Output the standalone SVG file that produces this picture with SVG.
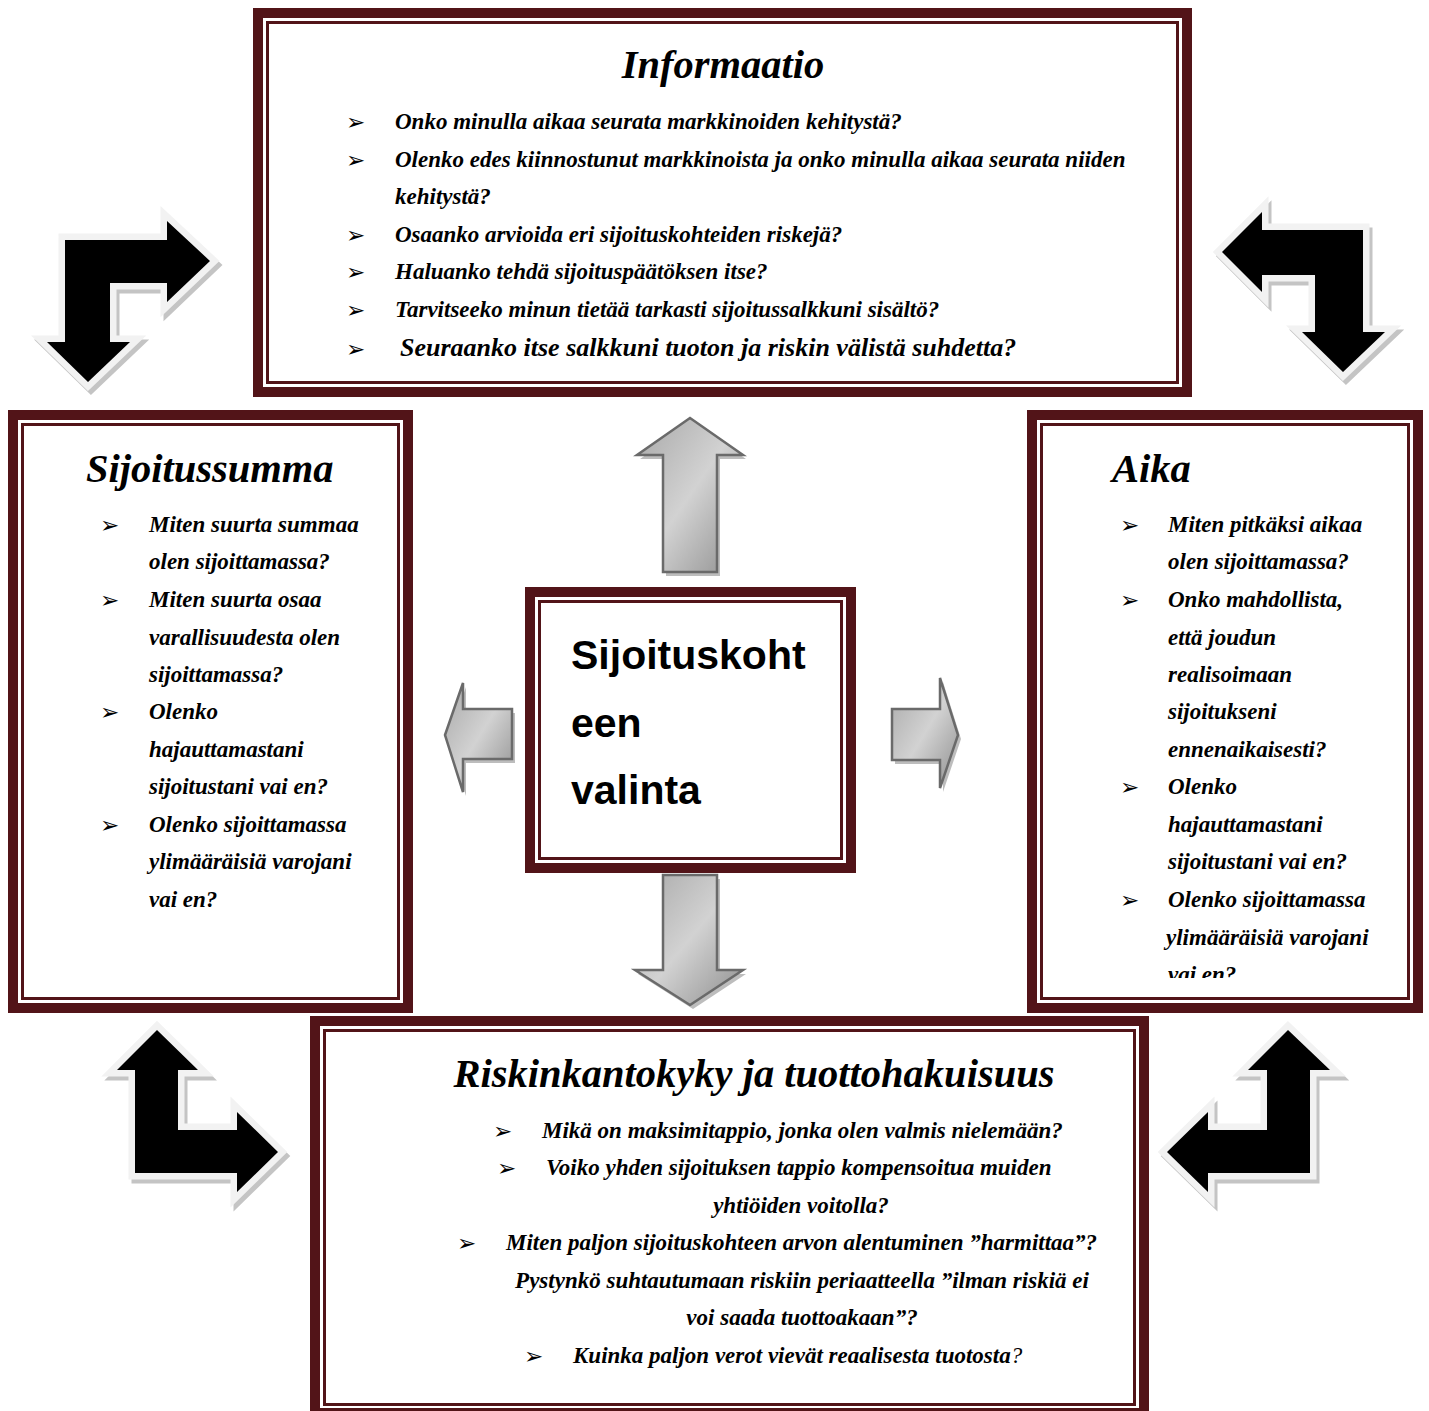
<svg xmlns="http://www.w3.org/2000/svg" width="1429" height="1411" viewBox="0 0 1429 1411">
<style>
.outer{fill:none;stroke:#521418;stroke-width:10}
.inner{fill:none;stroke:#521418;stroke-width:3}
.bg{fill:#ffffff}
.t{font-family:"Liberation Serif",serif;font-weight:bold;font-style:italic;font-size:23px;fill:#000}
.h{font-family:"Liberation Serif",serif;font-weight:bold;font-style:italic;font-size:40.5px;fill:#000}
.b{font-family:"DejaVu Sans",sans-serif;font-size:23px;fill:#000}
.c{font-family:"Liberation Sans",sans-serif;font-weight:bold;font-size:41px;fill:#000}
.ga{fill:url(#gg);stroke:#6a6a6a;stroke-width:2.5;stroke-linejoin:miter}
.gs{fill:#bdbdbd}
.ba{fill:#000;stroke:#f2f2f2;stroke-width:13;stroke-linejoin:miter;stroke-miterlimit:6;paint-order:stroke fill}
.bs{fill:#c4c4c4;stroke:#c4c4c4;stroke-width:13;stroke-linejoin:miter;stroke-miterlimit:6}
</style>
<defs>
<linearGradient id="gg" x1="0" y1="0" x2="1" y2="1">
<stop offset="0" stop-color="#a8a8a8"/>
<stop offset="0.5" stop-color="#d2d2d2"/>
<stop offset="1" stop-color="#8e8e8e"/>
</linearGradient>
<clipPath id="clipR"><rect x="1040" y="420" width="370" height="558"/></clipPath>
</defs>
<rect width="1429" height="1411" fill="#fff"/>

<g id="connectors">
<g id="arrow-up">
<path class="gs" transform="translate(3,4)" d="M690,418 L743,455 L717,455 L717,572 L663,572 L663,455 L637,455 Z"/>
<path class="ga" d="M690,418 L743,455 L717,455 L717,572 L663,572 L663,455 L637,455 Z"/>
</g>
<g id="arrow-left">
<path class="gs" transform="translate(3,4)" d="M445,735 L463,683 L463,709 L512,709 L512,759 L463,759 L463,792 Z"/>
<path class="ga" d="M445,735 L463,683 L463,709 L512,709 L512,759 L463,759 L463,792 Z"/>
</g>
<g id="arrow-right">
<path class="gs" transform="translate(3,4)" d="M958,735 L940,788 L940,760 L892,760 L892,709 L940,709 L940,678 Z"/>
<path class="ga" d="M958,735 L940,788 L940,760 L892,760 L892,709 L940,709 L940,678 Z"/>
</g>
<g id="arrow-down">
<path class="gs" transform="translate(3,4)" d="M690,1005 L635,970 L663,970 L663,875 L717,875 L717,970 L743,970 Z"/>
<path class="ga" d="M690,1005 L635,970 L663,970 L663,875 L717,875 L717,970 L743,970 Z"/>
</g>
<g id="corner-tl">
<path class="bs" transform="translate(3,4)" d="M65,240 L167,240 L167,221 L210,261 L167,302 L167,283 L110,283 L110,342 L130,342 L88,382 L47,342 L65,342 Z"/>
<path class="ba" d="M65,240 L167,240 L167,221 L210,261 L167,302 L167,283 L110,283 L110,342 L130,342 L88,382 L47,342 L65,342 Z"/>
</g>
<g id="corner-tr">
<path class="bs" transform="translate(3,4)" d="M1363,230 L1262,230 L1262,212 L1222,252 L1262,292 L1262,275 L1315,275 L1315,332 L1302,332 L1343,372 L1385,332 L1363,332 Z"/>
<path class="ba" d="M1363,230 L1262,230 L1262,212 L1222,252 L1262,292 L1262,275 L1315,275 L1315,332 L1302,332 L1343,372 L1385,332 L1363,332 Z"/>
</g>
<g id="corner-bl">
<path class="bs" transform="translate(3,4)" d="M135,1173 L237,1173 L237,1192 L278,1152 L237,1112 L237,1130 L178,1130 L178,1070 L198,1070 L157,1030 L117,1070 L135,1070 Z"/>
<path class="ba" d="M135,1173 L237,1173 L237,1192 L278,1152 L237,1112 L237,1130 L178,1130 L178,1070 L198,1070 L157,1030 L117,1070 L135,1070 Z"/>
</g>
<g id="corner-br">
<path class="bs" transform="translate(3,4)" d="M1310,1173 L1208,1173 L1208,1192 L1167,1152 L1208,1112 L1208,1130 L1267,1130 L1267,1070 L1248,1070 L1288,1030 L1330,1070 L1310,1070 Z"/>
<path class="ba" d="M1310,1173 L1208,1173 L1208,1192 L1167,1152 L1208,1112 L1208,1130 L1267,1130 L1267,1070 L1248,1070 L1288,1030 L1330,1070 L1310,1070 Z"/>
</g>
</g>

<g id="informaatio">
<rect class="bg" x="253" y="8" width="939" height="389"/>
<rect class="outer" x="258" y="13" width="929" height="379"/>
<rect class="inner" x="267.5" y="22.5" width="910" height="360"/>
<text class="h" x="723" y="78" text-anchor="middle">Informaatio</text>
<text class="b" x="346" y="130">➢</text><text class="t" x="395" y="129">Onko minulla aikaa seurata markkinoiden kehitystä?</text>
<text class="b" x="346" y="168">➢</text><text class="t" x="395" y="167">Olenko edes kiinnostunut markkinoista ja onko minulla aikaa seurata niiden</text>
<text class="t" x="395" y="204">kehitystä?</text>
<text class="b" x="346" y="243">➢</text><text class="t" x="395" y="242">Osaanko arvioida eri sijoituskohteiden riskejä?</text>
<text class="b" x="346" y="280">➢</text><text class="t" x="395" y="279">Haluanko tehdä sijoituspäätöksen itse?</text>
<text class="b" x="346" y="318">➢</text><text class="t" x="395" y="317">Tarvitseeko minun tietää tarkasti sijoitussalkkuni sisältö?</text>
<text class="b" x="346" y="357">➢</text><text class="t" x="400" y="356" style="font-size:26px">Seuraanko itse salkkuni tuoton ja riskin välistä suhdetta?</text>
</g>

<g id="sijoitussumma">
<rect class="bg" x="8" y="410" width="405" height="603"/>
<rect class="outer" x="13" y="415" width="395" height="593"/>
<rect class="inner" x="22.5" y="424.5" width="376" height="574"/>
<text class="h" x="86" y="482">Sijoitussumma</text>
<text class="b" x="100" y="533">➢</text><text class="t" x="149" y="532">Miten suurta summaa</text>
<text class="t" x="149" y="569">olen sijoittamassa?</text>
<text class="b" x="100" y="608">➢</text><text class="t" x="149" y="607">Miten suurta osaa</text>
<text class="t" x="149" y="645">varallisuudesta olen</text>
<text class="t" x="149" y="682">sijoittamassa?</text>
<text class="b" x="100" y="720">➢</text><text class="t" x="149" y="719">Olenko</text>
<text class="t" x="149" y="757">hajauttamastani</text>
<text class="t" x="149" y="794">sijoitustani vai en?</text>
<text class="b" x="100" y="833">➢</text><text class="t" x="149" y="832">Olenko sijoittamassa</text>
<text class="t" x="149" y="869">ylimääräisiä varojani</text>
<text class="t" x="149" y="907">vai en?</text>
</g>

<g id="aika">
<rect class="bg" x="1027" y="410" width="396" height="603"/>
<rect class="outer" x="1032" y="415" width="386" height="593"/>
<rect class="inner" x="1041.5" y="424.5" width="367" height="574"/>
<text class="h" x="1112" y="482">Aika</text>
<g clip-path="url(#clipR)">
<text class="b" x="1120" y="533">➢</text><text class="t" x="1168" y="532">Miten pitkäksi aikaa</text>
<text class="t" x="1168" y="569">olen sijoittamassa?</text>
<text class="b" x="1120" y="608">➢</text><text class="t" x="1168" y="607">Onko mahdollista,</text>
<text class="t" x="1168" y="645">että joudun</text>
<text class="t" x="1168" y="682">realisoimaan</text>
<text class="t" x="1168" y="719">sijoitukseni</text>
<text class="t" x="1168" y="757">ennenaikaisesti?</text>
<text class="b" x="1120" y="795">➢</text><text class="t" x="1168" y="794">Olenko</text>
<text class="t" x="1168" y="832">hajauttamastani</text>
<text class="t" x="1168" y="869">sijoitustani vai en?</text>
<text class="b" x="1120" y="908">➢</text><text class="t" x="1168" y="907">Olenko sijoittamassa</text>
<text class="t" x="1166" y="945">ylimääräisiä varojani</text>
<text class="t" x="1168" y="982">vai en?</text>
</g>
</g>

<g id="valinta">
<rect class="bg" x="525" y="587" width="331" height="286"/>
<rect class="outer" x="530" y="592" width="321" height="276"/>
<rect class="inner" x="539.5" y="601.5" width="302" height="257"/>
<text class="c" x="571" y="669">Sijoituskoht</text>
<text class="c" x="571" y="737">een</text>
<text class="c" x="571" y="804">valinta</text>
</g>

<g id="riskinkantokyky">
<rect class="bg" x="310" y="1016" width="839" height="402"/>
<rect class="outer" x="315" y="1021" width="829" height="392"/>
<rect class="inner" x="324.5" y="1030.5" width="810" height="374"/>
<text class="h" x="754" y="1087" text-anchor="middle">Riskinkantokyky ja tuottohakuisuus</text>
<text class="b" x="493" y="1139">➢</text><text class="t" x="542" y="1138">Mikä on maksimitappio, jonka olen valmis nielemään?</text>
<text class="b" x="497" y="1176">➢</text><text class="t" x="546" y="1175">Voiko yhden sijoituksen tappio kompensoitua muiden</text>
<text class="t" x="801" y="1213" text-anchor="middle">yhtiöiden voitolla?</text>
<text class="b" x="457" y="1251">➢</text><text class="t" x="506" y="1250">Miten paljon sijoituskohteen arvon alentuminen ”harmittaa”?</text>
<text class="t" x="802" y="1288" text-anchor="middle">Pystynkö suhtautumaan riskiin periaatteella ”ilman riskiä ei</text>
<text class="t" x="802" y="1325" text-anchor="middle">voi saada tuottoakaan”?</text>
<text class="b" x="524" y="1364">➢</text><text class="t" x="573" y="1363">Kuinka paljon verot vievät reaalisesta tuotosta<tspan font-weight="normal">?</tspan></text>
</g>
</svg>
